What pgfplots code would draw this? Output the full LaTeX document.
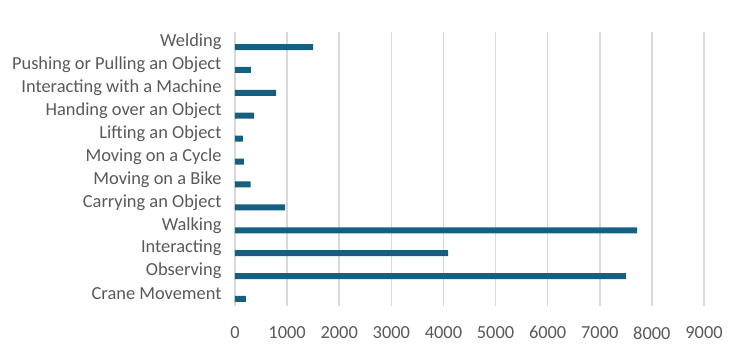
\documentclass[border=0pt]{standalone}
\usepackage{fontspec}
\setmainfont{Carlito}
\usepackage{pgfplots}
\pgfplotsset{compat=1.18}
\definecolor{barBlue}{HTML}{156082}
\definecolor{gridGray}{HTML}{D9D9D9}
\definecolor{labGray}{HTML}{595959}

\begin{document}
\begin{tikzpicture}
\path[use as bounding box] (-235bp,-44bp) rectangle (512bp,306bp);
\begin{axis}[
    at={(0,0)}, anchor=south west,
    xbar,
    width=469bp, height=274bp,
    scale only axis,
    xmin=0, xmax=9000,
    ymin=-0.306, ymax=11.655,
    xtick={0,1000,...,9000},
    ytick={0,...,11},
    yticklabels={Crane Movement,Observing,Interacting,Walking,Carrying an Object,
        Moving on a Bike,Moving on a Cycle,Lifting an Object,Handing over an Object,
        Interacting with a Machine,Pushing or Pulling an Object,Welding},
    scaled x ticks=false,
    /pgf/number format/assume math mode=true,
    /pgf/number format/set thousands separator={},
    tick label style={font=\fontsize{18.4bp}{21bp}\selectfont, color=labGray},
    yticklabel style={xshift=-10bp, yshift=5bp},
    xticklabel style={yshift=-17bp},
    major tick length=0pt,
    axis line style={draw=none},
    xmajorgrids=true, ymajorgrids=false,
    grid style={gridGray, line width=1.5bp},
    bar width=6bp,
]
\addplot[draw=none, fill=barBlue] coordinates {
    (210,0) (7505,1) (4090,2) (7715,3) (960,4) (300,5)
    (170,6) (150,7) (365,8) (790,9) (305,10) (1500,11)
};
\end{axis}
\end{tikzpicture}
\end{document}
